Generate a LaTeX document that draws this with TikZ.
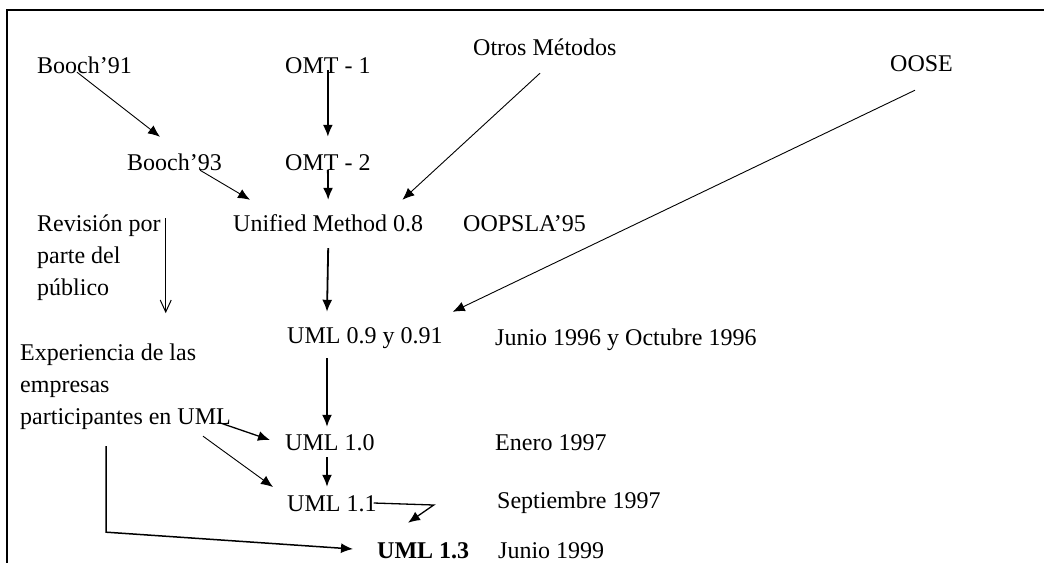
\documentclass[tikz,border=0pt]{standalone}
\usepackage{fontspec}
\setmainfont{Liberation Serif}
\usetikzlibrary{arrows.meta}
\begin{document}
\begin{tikzpicture}[x=1pt,y=-1pt,font=\fontsize{24}{32}\selectfont]
     \tikzstyle{texto}=[anchor=west, inner sep=0pt, text height=17pt, text depth=5pt]
     \tikzstyle{bloque}=[anchor=north west, inner sep=0pt, align=left]
     \tikzstyle{gruesa}=[line width=1.8pt, -{Latex[length=12pt,width=10pt]}]
     \tikzstyle{fina}=[line width=0.9pt, -{Latex[length=12pt,width=10pt]}]
     \useasboundingbox (0,0) rectangle (1044,563);
     \draw[line width=1.3pt] (1044,10) -- (7,10) -- (7,563);
     % metodos de partida
     \node[texto] (b91) at (37,67) {Booch’91};
     \node[texto] (omt1) at (285,67) {OMT - 1};
     \node[texto] (otros) at (473,49) {Otros Métodos};
     \node[texto] (oose) at (890,65) {OOSE};
     \node[texto] (b93) at (127,164) {Booch’93};
     \node[texto] (omt2) at (285,164) {OMT - 2};
     \node[texto] (um) at (233,225) {Unified Method 0.8};
     \node[texto] (oopsla) at (463,225) {OOPSLA’95};
     \node[bloque] (rev) at (37,215) {Revisión por\\parte del\\público};
     % versiones de UML
     \node[texto] (uml09) at (287,337) {UML 0.9 y 0.91};
     \node[texto] (jun96) at (495,339) {Junio 1996 y Octubre 1996};
     \node[bloque] (exp) at (20,344) {Experiencia de las\\empresas\\participantes en UML};
     \node[texto] (uml10) at (285,444) {UML 1.0};
     \node[texto] (ene) at (495,444) {Enero 1997};
     \node[texto] (uml11) at (287,505) {UML 1.1};
     \node[texto] (sep) at (497,502) {Septiembre 1997};
     \node[texto,font=\fontsize{24}{32}\selectfont\bfseries] (uml13) at (377,552) {UML 1.3};
     \node[texto] (jun99) at (498,552) {Junio 1999};
     % flechas
     \draw[fina] ([xshift=40pt,yshift=6pt]b91.south west) -- ([xshift=33pt,yshift=16pt]b93.north west);
     \draw[gruesa] ([yshift=8pt]omt1.south) -- ([yshift=16pt]omt2.north);
     \draw[gruesa] ([yshift=5pt]omt2.south) -- ([yshift=14pt]um.north);
     \draw[fina] ([xshift=73pt,yshift=5pt]b93.south west) -- ([xshift=17pt,yshift=14pt]um.north west);
     \draw[fina] ([xshift=67pt,yshift=-13pt]otros.south west) -- ([xshift=-21pt,yshift=14pt]um.north east);
     \draw[fina] ([xshift=25pt,yshift=-14pt]oose.south west) -- ([xshift=10pt,yshift=14pt]uml09.north east);
     \draw[gruesa] ([yshift=-12pt]um.south) -- ([xshift=40pt,yshift=14pt]uml09.north west);
     \draw[line width=1pt, -{Straight Barb[length=12pt,width=11pt]}] ([xshift=5pt,yshift=-3pt]rev.north east) -- ([xshift=5pt,yshift=-12pt]rev.south east);
     \draw[gruesa] ([xshift=40pt,yshift=-10pt]uml09.south west) -- ([xshift=42pt,yshift=6pt]uml10.north west);
     \draw[gruesa] ([xshift=42pt,yshift=-2pt]uml10.south west) -- ([xshift=40pt,yshift=7pt]uml11.north west);
     \draw[fina,line width=1.3pt] ([xshift=-13pt,yshift=8pt]exp.south east) -- ([xshift=-15pt,yshift=4pt]uml10.west);
     \draw[fina] ([xshift=-28pt,yshift=-6pt]exp.south east) -- ([xshift=-14pt,yshift=18pt]uml11.west);
     \draw[gruesa,line width=1.5pt] ([xshift=86pt,yshift=-16pt]exp.south west) -- ++(0,86) -- ([xshift=-24pt,yshift=3pt]uml13.west);
     \draw[fina,line width=1.3pt] ([xshift=-3pt,yshift=2pt]uml11.east) -- ++(60,2) -- ([xshift=31pt,yshift=18pt]uml13.north west);
\end{tikzpicture}
\end{document}
